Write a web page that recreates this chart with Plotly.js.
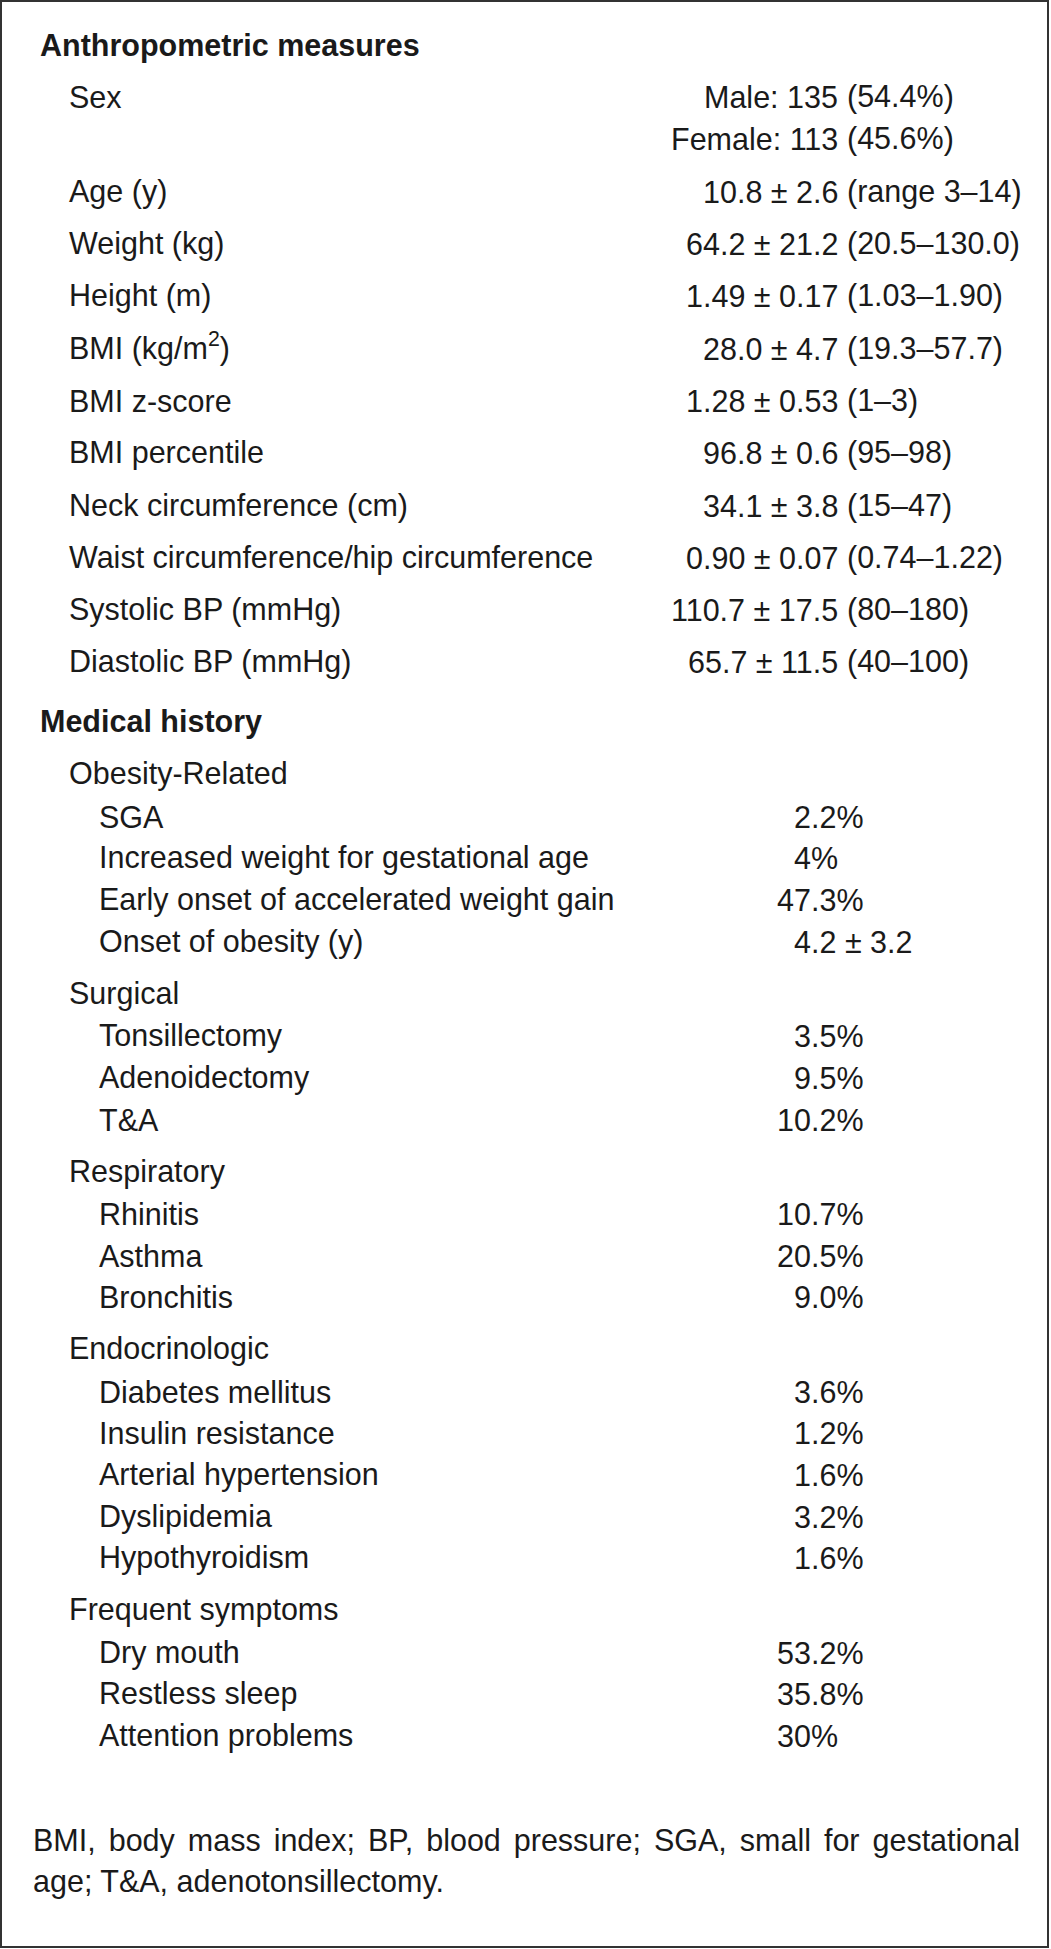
<!DOCTYPE html>
<html>
<head>
<meta charset="utf-8">
<script src="https://cdn.plot.ly/plotly-3.0.1.min.js"></script>
<style>html,body{margin:0;padding:0;background:#ffffff;}</style>
</head>
<body>
<div id="chart" style="width:1051px;height:1949px;"></div>
<script>
// ---------------- data ----------------
const sectionHeadings = ["Anthropometric measures", "Medical history"];

const anthroLabels = ["Sex", "Age (y)", "Weight (kg)", "Height (m)", "BMI (kg/m<sup>2</sup>)",
  "BMI z-score", "BMI percentile", "Neck circumference (cm)",
  "Waist circumference/hip circumference", "Systolic BP (mmHg)", "Diastolic BP (mmHg)"];
const sexValues = ["Male: 135 (54.4%)", "Female: 113 (45.6%)"];
const anthroValues = ["", "10.8 ± 2.6 (range 3–14)", "64.2 ± 21.2 (20.5–130.0)",
  "1.49 ± 0.17 (1.03–1.90)", "28.0 ± 4.7 (19.3–57.7)", "1.28 ± 0.53 (1–3)",
  "96.8 ± 0.6 (95–98)", "34.1 ± 3.8 (15–47)", "0.90 ± 0.07 (0.74–1.22)",
  "110.7 ± 17.5 (80–180)", "65.7 ± 11.5 (40–100)"];

const groupNames = ["Obesity-Related", "Surgical", "Respiratory", "Endocrinologic", "Frequent symptoms"];
const obesityItems = ["SGA", "Increased weight for gestational age", "Early onset of accelerated weight gain", "Onset of obesity (y)"];
const obesityValues = ["2.2%", "4%", "47.3%", "4.2 ± 3.2"];
const surgicalItems = ["Tonsillectomy", "Adenoidectomy", "T&A"];
const surgicalValues = ["3.5%", "9.5%", "10.2%"];
const respiratoryItems = ["Rhinitis", "Asthma", "Bronchitis"];
const respiratoryValues = ["10.7%", "20.5%", "9.0%"];
const endocrineItems = ["Diabetes mellitus", "Insulin resistance", "Arterial hypertension", "Dyslipidemia", "Hypothyroidism"];
const endocrineValues = ["3.6%", "1.2%", "1.6%", "3.2%", "1.6%"];
const symptomItems = ["Dry mouth", "Restless sleep", "Attention problems"];
const symptomValues = ["53.2%", "35.8%", "30%"];

const footnoteLines = ["BMI, body mass index; BP, blood pressure; SGA, small for gestational",
  "age; T&A, adenotonsillectomy."];

// ---------------- layout ----------------
const W = 1051, H = 1949;
const FS = 30.5;
const FONT = '"Liberation Sans", Arial, Helvetica, sans-serif';
const INK = '#1a1a1a';
const X_HEAD = 40, X_L1 = 69, X_L2 = 99, X_FOOT = 33, X_FOOT_END = 1020;
const X_PAREN = 847, X_INT = 811;

const ann = [];
function txt(x, baseline, text, anchor, bold) {
  ann.push({
    x: x, y: baseline + 0.212 * FS, xref: 'x', yref: 'y',
    text: text, showarrow: false,
    xanchor: anchor, yanchor: 'bottom', align: anchor === 'right' ? 'right' : 'left',
    borderpad: 0, borderwidth: 0,
    font: {family: FONT, size: FS, color: INK, weight: bold ? 700 : 400}
  });
}
function parenValue(baseline, v) {
  const i = v.indexOf(' (');
  txt(X_PAREN - 9, baseline, v.slice(0, i), 'right');
  txt(X_PAREN, baseline, v.slice(i + 1), 'left');
}
function decimalValue(baseline, v) {
  const m = v.match(/^\d+/);
  const lead = m ? m[0] : '';
  txt(X_INT, baseline, lead, 'right');
  txt(X_INT, baseline, v.slice(lead.length), 'left');
}

// Anthropometric section
let b = 57;
txt(X_HEAD, b, sectionHeadings[0], 'left', true);
b += 51;
anthroLabels.forEach((lab, k) => {
  if (k > 0) b += 52.3;
  txt(X_L1, b, lab, 'left');
  if (k === 0) {
    sexValues.forEach((sv, j) => { if (j > 0) b += 42; parenValue(b, sv); });
  } else {
    parenValue(b, anthroValues[k]);
  }
});

// Medical history section
b += 60;
txt(X_HEAD, b, sectionHeadings[1], 'left', true);
const groups = [
  [obesityItems, obesityValues], [surgicalItems, surgicalValues],
  [respiratoryItems, respiratoryValues], [endocrineItems, endocrineValues],
  [symptomItems, symptomValues]
];
groups.forEach((g, gi) => {
  b += 52;
  txt(X_L1, b, groupNames[gi], 'left');
  g[0].forEach((item, k) => {
    b += (k === 0 ? 42.3 : 41.7);
    txt(X_L2, b, item, 'left');
    decimalValue(b, g[1][k]);
  });
});

// Footnote
txt(X_FOOT, 1852, footnoteLines[0], 'left');
txt(X_FOOT, 1893, footnoteLines[1], 'left');

const layout = {
  width: W, height: H,
  margin: {l: 0, r: 0, t: 0, b: 0, pad: 0},
  paper_bgcolor: '#ffffff', plot_bgcolor: '#ffffff',
  showlegend: false,
  xaxis: {range: [0, W], visible: false, fixedrange: true},
  yaxis: {range: [H, 0], visible: false, fixedrange: true},
  annotations: ann,
  shapes: [{type: 'rect', xref: 'x', yref: 'y', x0: 1, y0: 1, x1: 1048, y1: 1947,
            line: {color: '#333333', width: 2}, fillcolor: 'rgba(0,0,0,0)'}]
};
Plotly.newPlot('chart', [], layout, {staticPlot: true, displayModeBar: false}).then(gd => {
  // justify the first footnote line, as in the reference
  gd.querySelectorAll('text.annotation-text').forEach(t => {
    if (t.textContent === footnoteLines[0] && t.getComputedTextLength) {
      const gaps = footnoteLines[0].split(' ').length - 1;
      const extra = (X_FOOT_END - X_FOOT) - t.getComputedTextLength();
      if (extra > 0 && gaps > 0) t.style.wordSpacing = (extra / gaps).toFixed(2) + 'px';
    }
  });
});
</script>
</body>
</html>
